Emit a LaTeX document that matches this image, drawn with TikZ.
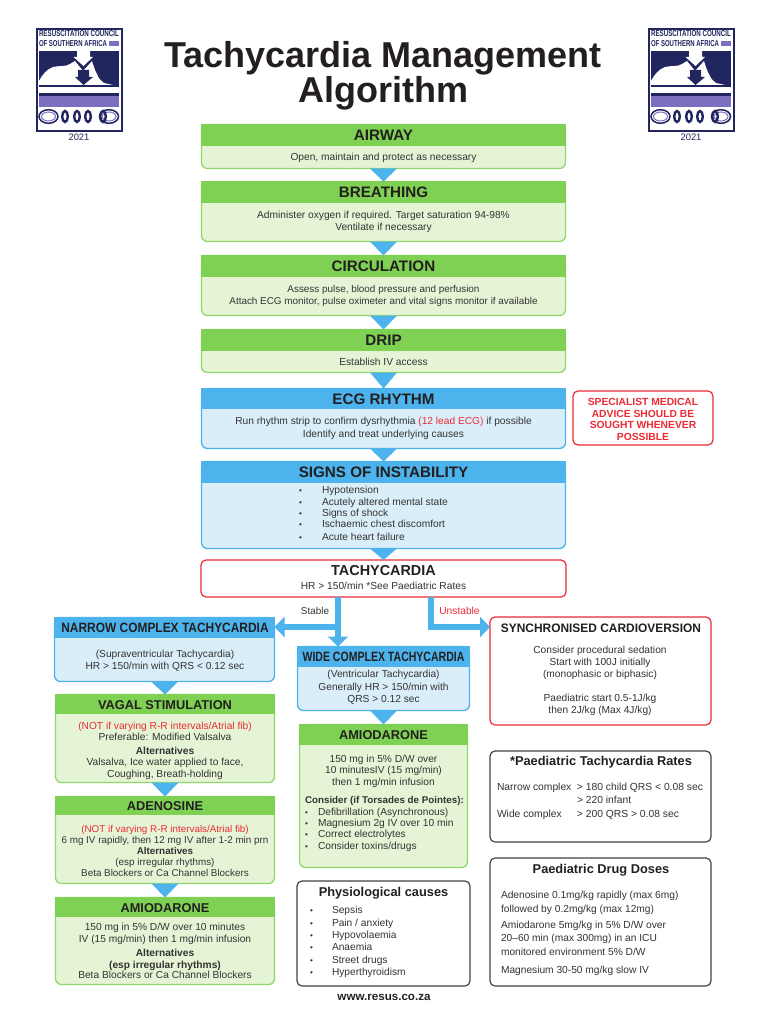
\documentclass[tikz,border=0pt]{standalone}
\usepackage{fontspec}
\setmainfont{Liberation Sans}
\usetikzlibrary{arrows.meta,calc}
\definecolor{gh}{HTML}{7ED153}
\definecolor{gb}{HTML}{E6F4D6}
\definecolor{gl}{HTML}{8FD96B}
\definecolor{bh}{HTML}{4DB3EC}
\definecolor{bb}{HTML}{DAEEF9}
\definecolor{rd}{HTML}{EC2B35}
\definecolor{tx}{HTML}{333333}
\definecolor{tt}{HTML}{231F20}
\definecolor{nv}{HTML}{22265F}
\definecolor{pp}{HTML}{7D6FBF}
\tikzset{
 x=1pt,y=-1pt,
 every node/.style={inner sep=0pt,outer sep=0pt,text=tx},
 greenbox/.style={draw=gl,fill=gb,line width=1.3pt,rounded corners=6pt},
 bluebox/.style={draw=bh,fill=bb,line width=1.3pt,rounded corners=6pt},
 redbox/.style={draw=rd,fill=white,line width=1.2pt,rounded corners=5pt},
 darkbox/.style={draw=tt!85,fill=white,line width=1.2pt,rounded corners=5pt},
 greenhead/.style={fill=gh,draw=gh,line width=1.3pt},
 bluehead/.style={fill=bh,draw=bh,line width=1.3pt},
 headtext/.style={font=\bfseries\fontsize{15.2}{17}\selectfont,text=tt},
 subhead/.style={font=\bfseries\fontsize{12.8}{15}\selectfont,text=tt},
 bodytext/.style={font=\fontsize{10.2}{12}\selectfont,align=center},
 leftlist/.style={font=\fontsize{10.2}{12}\selectfont,align=left,anchor=north west},
 paneltitle/.style={font=\bfseries\fontsize{12.8}{14}\selectfont,text=tt},
 conn/.style={draw=bh,line width=5.5pt,-{Triangle[width=20pt,length=10pt]}},
}
\newcommand\flowbox[7]{% name kind x0 y0 x1 split y1
 \pgfmathsetmacro\bw{#5-#3-1}\pgfmathsetmacro\bh{#7-#4-1}\pgfmathsetmacro\hh{#6-#4-1}
 \pgfmathsetmacro\bx{#3+.5}\pgfmathsetmacro\by{#4+.5}
 \node[#2box,anchor=north west,minimum width=\bw pt,minimum height=\bh pt] (#1) at (\bx,\by) {};
 \node[#2head,anchor=north west,minimum width=\bw pt,minimum height=\hh pt] (#1head) at (\bx,\by) {};
}
\newcommand\plainbox[6]{% name kind x0 y0 x1 y1
 \pgfmathsetmacro\bw{#5-#3}\pgfmathsetmacro\bh{#6-#4}
 \node[#2box,anchor=north west,minimum width=\bw pt,minimum height=\bh pt] (#1) at (#3,#4) {};
}
\newcommand\pointer[2]{\fill[bh] ($(#1.south)+(-13.5,0)$) -- ($(#1.south)+(13.5,0)$) -- (#2.north) -- cycle;}
\newcommand\bl[2]{\makebox[#1pt][l]{\scalebox{.8}{•}}#2}
\newcommand\redtxt[1]{\textcolor{rd}{#1}}
\newcommand\rclogo[1]{%
\begin{scope}[shift={(#1,0)}]
 \draw[nv,line width=1.2pt] (37,29) rectangle (122,131);
 \node[text=nv] (logotop#1) at (79,33.5) {\resizebox{80pt}{6pt}{\bfseries RESUSCITATION COUNCIL}};
 \node[text=nv,anchor=west] (logosub#1) at (39,44) {\resizebox{68pt}{6pt}{\bfseries OF SOUTHERN AFRICA}};
 \fill[pp] (109,41) rectangle (119,46.5);
 \fill[nv] (39,51) rectangle (119,87);
 \fill[white] (39,85) -- (39,81) .. controls (42,75) and (47,69) .. (53,67) .. controls (58,65.5) and (66,67) .. (70,64) -- (75,61) -- (83,71) -- (92,61) .. controls (94,67) and (95,71) .. (97,74) .. controls (99,79) and (101,81) .. (104,83) -- (113,85) -- cycle;
 \fill[white] (77,51) -- (90,51) -- (90,57) -- (93,57) -- (83.5,66) -- (73.5,57) -- (77,57) -- cycle;
 \fill[nv] (78,70) -- (89,70) -- (89,77) -- (93,77) -- (83.5,85) -- (75,77) -- (78,77) -- cycle;
 \fill[pp] (39,93) rectangle (119,107);
 \fill[nv] (39,93) rectangle (119,96);
 \draw[pp,line width=1pt] (48.5,116.5) ellipse [x radius=7,y radius=4.5];
 \draw[pp,line width=1pt] (109,116.5) ellipse [x radius=7,y radius=4.5];
 \draw[nv,line width=1.5pt] (48.5,116.5) ellipse [x radius=9.5,y radius=6.8];
 \draw[nv,line width=1.5pt] (109,116.5) ellipse [x radius=9.5,y radius=6.8];
 \foreach \ex in {65,77,88,103} {\draw[nv,line width=2.4pt] (\ex,116.5) ellipse [x radius=2.8,y radius=5.5];}
 \node[text=nv,font=\fontsize{9.4}{10}\selectfont] (logoyear#1) at (79,137.5) {2021};
\end{scope}}
\begin{document}
\begin{tikzpicture}
\useasboundingbox (0,0) rectangle (768,1024);
\fill[white] (0,0) rectangle (768,1024);
\rclogo{0}
\rclogo{612}
\node[font=\bfseries\fontsize{36}{32.5}\selectfont,align=center,text=tt] (title) at (383,76) {Tachycardia Management\\Algorithm};
% main column
\flowbox{airway}{green}{201}{124}{566}{146}{169}
\flowbox{breathing}{green}{201}{181}{566}{203}{242}
\flowbox{circulation}{green}{201}{255}{566}{277}{316}
\flowbox{drip}{green}{201}{329}{566}{351}{373}
\flowbox{ecg}{blue}{201}{388}{566}{409}{449}
\flowbox{signs}{blue}{201}{461}{566}{483}{549}
\plainbox{tachy}{red}{201}{560}{566}{597}
\pointer{airway}{breathing}
\pointer{breathing}{circulation}
\pointer{circulation}{drip}
\pointer{drip}{ecg}
\pointer{ecg}{signs}
\pointer{signs}{tachy}
\node[headtext] (airwayt) at (383.5,135) {AIRWAY};
\node[bodytext] (airwayb) at (383.5,157.5) {Open, maintain and protect as necessary};
\node[headtext] (breatht) at (383.5,192) {BREATHING};
\node[bodytext] (breathb) at (383.5,222) {Administer oxygen if required. Target saturation 94-98\%\\Ventilate if necessary};
\node[headtext] (circt) at (383.5,266) {CIRCULATION};
\node[bodytext,font=\fontsize{9.9}{12}\selectfont] (circb) at (383.5,296) {Assess pulse, blood pressure and perfusion\\Attach ECG monitor, pulse oximeter and vital signs monitor if available};
\node[headtext] (dript) at (383.5,340) {DRIP};
\node[bodytext] (dripb) at (383.5,362) {Establish IV access};
\node[headtext] (ecgt) at (383.5,399) {ECG RHYTHM};
\node[bodytext,font=\fontsize{10.2}{13}\selectfont] (ecgb) at (383.5,428.5) {Run rhythm strip to confirm dysrhythmia \redtxt{(12 lead ECG)} if possible\\Identify and treat underlying causes};
\node[headtext] (signst) at (383.5,472) {SIGNS OF INSTABILITY};
\node[leftlist,font=\fontsize{10.2}{11.2}\selectfont] (signsb) at (299,486.5) {\bl{23}{Hypotension}\\\bl{23}{Acutely altered mental state}\\\bl{23}{Signs of shock}\\\bl{23}{Ischaemic chest discomfort}\\[1.5pt]\bl{23}{Acute heart failure}};
\node[headtext,font=\bfseries\fontsize{14.4}{15}\selectfont] (tachyt) at (383.5,570.5) {TACHYCARDIA};
\node[bodytext] (tachyb) at (383.5,586) {HR > 150/min *See Paediatric Rates};
% specialist
\plainbox{spec}{red}{573}{391}{713}{445}
\node[bodytext,font=\bfseries\fontsize{10.3}{11.6}\selectfont,text=rd] (spect) at (643,419.5) {SPECIALIST MEDICAL\\ADVICE SHOULD BE\\SOUGHT WHENEVER\\POSSIBLE};
% branches
\flowbox{narrow}{blue}{54}{617}{275}{638}{682}
\flowbox{wide}{blue}{297}{646}{470}{667}{711}
\flowbox{amiomid}{green}{299}{724}{468}{745}{868}
\flowbox{vagal}{green}{55}{694}{275}{714}{783}
\flowbox{aden}{green}{55}{796}{275}{815}{884}
\flowbox{amioleft}{green}{55}{897}{275}{917}{985}
\plainbox{sync}{red}{490}{617}{711}{725}
\plainbox{phys}{dark}{297}{881}{470}{986}
\plainbox{rates}{dark}{490}{751}{711}{842}
\plainbox{doses}{dark}{490}{858}{711}{986}
\pointer{narrow}{vagal}
\pointer{vagal}{aden}
\pointer{aden}{amioleft}
\pointer{wide}{amiomid}
\coordinate (stableTop) at (338,597);
\coordinate (stableMid) at (338,627);
\coordinate (unstableTop) at (431,597);
\coordinate (unstableMid) at (431,627);
\draw[conn] (stableTop) -- (stableTop |- wide.north);
\draw[conn] (stableMid) -- (narrow.east |- stableMid);
\draw[conn] (unstableTop) |- (sync.west |- unstableMid);
\node[bodytext,font=\fontsize{9.9}{11}\selectfont] (stablel) at (315,611) {Stable};
\node[bodytext,text=rd] (unstablel) at (459.5,611) {Unstable};
\node[subhead,font=\bfseries\fontsize{13.5}{15}\selectfont] (narrowt) at (165,627.5) {\scalebox{.884}[1]{NARROW COMPLEX TACHYCARDIA}};
\node[bodytext] (narrowb) at (165,661) {(Supraventricular Tachycardia)\\HR > 150/min with QRS < 0.12 sec};
\node[subhead,font=\bfseries\fontsize{13.5}{15}\selectfont] (widet) at (383.5,657) {\scalebox{.78}[1]{WIDE COMPLEX TACHYCARDIA}};
\node[bodytext,font=\fontsize{10.2}{12.5}\selectfont] (wideb) at (383.5,687.5) {(Ventricular Tachycardia)\\Generally HR > 150/min with\\QRS > 0.12 sec};
\node[subhead] (amiomidt) at (383.5,735.5) {AMIODARONE};
\node[bodytext,font=\fontsize{10.2}{11.5}\selectfont] (amiomidb) at (383.5,771) {150 mg in 5\% D/W over\\10 minutesIV (15 mg/min)\\then 1 mg/min infusion};
\node[leftlist,font=\fontsize{10.2}{11.4}\selectfont] (amiomidl) at (305,796.5) {\fontsize{9.8}{11.4}\selectfont\textbf{Consider (if Torsades de Pointes):}\\\bl{13}{Defibrillation (Asynchronous)}\\\bl{13}{Magnesium 2g IV over 10 min}\\\bl{13}{Correct electrolytes}\\\bl{13}{Consider toxins/drugs}};
\node[subhead] (vagalt) at (165,705) {VAGAL STIMULATION};
\node[bodytext,font=\fontsize{10.2}{11.4}\selectfont] (vagalb) at (165,750.5) {\redtxt{(NOT if varying R-R intervals/Atrial fib)}\\Preferable: Modified Valsalva\\[2.5pt]\textbf{Alternatives}\\Valsalva, Ice water applied to face,\\Coughing, Breath-holding};
\node[subhead] (adent) at (165,806) {ADENOSINE};
\node[bodytext,font=\fontsize{9.85}{11}\selectfont] (adenb) at (165,850.5) {\redtxt{(NOT if varying R-R intervals/Atrial fib)}\\6 mg IV rapidly, then 12 mg IV after 1-2 min prn\\\textbf{Alternatives}\\(esp irregular rhythms)\\Beta Blockers or Ca Channel Blockers};
\node[subhead] (amioleftt) at (165,908) {AMIODARONE};
\node[bodytext,font=\fontsize{10.2}{12}\selectfont] (amioleftb) at (165,951) {150 mg in 5\% D/W over 10 minutes\\IV (15 mg/min) then 1 mg/min infusion\\[2pt]\textbf{Alternatives}\\\textbf{(esp irregular rhythms)}\\[-2pt]Beta Blockers or Ca Channel Blockers};
\node[paneltitle,font=\bfseries\fontsize{12.3}{14}\selectfont] (synct) at (601,628) {\scalebox{.97}[1]{SYNCHRONISED CARDIOVERSION}};
\node[bodytext,font=\fontsize{10.2}{12.3}\selectfont] (syncb) at (600,681) {Consider procedural sedation\\Start with 100J initially\\(monophasic or biphasic)\\[11.5pt]Paediatric start 0.5-1J/kg\\then 2J/kg (Max 4J/kg)};
\node[paneltitle] (physt) at (383.5,893) {Physiological causes};
\node[leftlist,font=\fontsize{10.2}{12.3}\selectfont] (physb) at (310,906.5) {\bl{22}{Sepsis}\\\bl{22}{Pain / anxiety}\\\bl{22}{Hypovolaemia}\\\bl{22}{Anaemia}\\\bl{22}{Street drugs}\\\bl{22}{Hyperthyroidism}};
\node[paneltitle] (ratest) at (601,762) {*Paediatric Tachycardia Rates};
\node[leftlist,font=\fontsize{10.3}{12.6}\selectfont] (ratesb) at (497,783) {\makebox[80pt][l]{Narrow complex}> 180 child QRS < 0.08 sec\\\makebox[80pt][l]{}> 220 infant\\[2pt]\makebox[80pt][l]{Wide complex}> 200 QRS > 0.08 sec};
\node[paneltitle] (dosest) at (601,870) {Paediatric Drug Doses};
\node[leftlist,font=\fontsize{10.2}{13.5}\selectfont] (dosesb) at (501,891.5) {Adenosine 0.1mg/kg rapidly (max 6mg)\\followed by 0.2mg/kg (max 12mg)\\[2.5pt]Amiodarone 5mg/kg in 5\% D/W over\\20–60 min (max 300mg) in an ICU\\monitored environment 5\% D/W\\[4.5pt]Magnesium 30-50 mg/kg slow IV};
\node[font=\bfseries\fontsize{11.6}{13}\selectfont,text=tt] (web) at (384,997) {www.resus.co.za};
\end{tikzpicture}
\end{document}
